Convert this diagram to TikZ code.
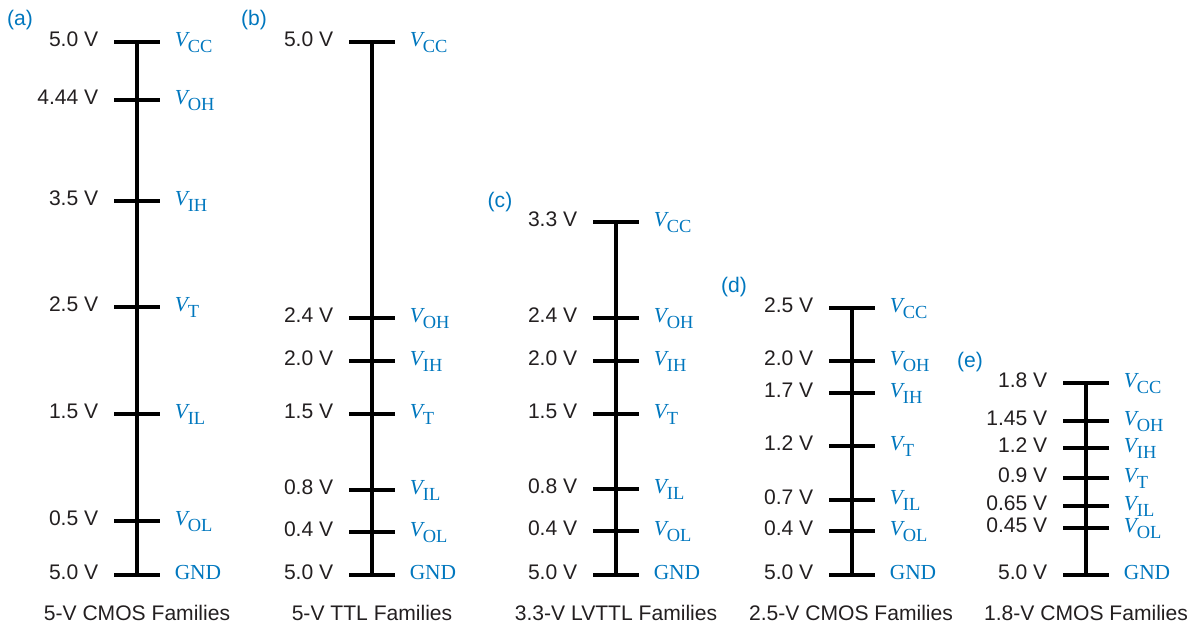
\documentclass[tikz,border=0pt]{standalone}
\usepackage{fontspec}
\setmainfont{Liberation Sans}
\newfontfamily\labelfont{Liberation Serif}
\definecolor{labelblue}{RGB}{0,119,190}
\definecolor{valgray}{RGB}{35,31,32}
\newcommand{\vsig}[1]{{\itshape V}\raisebox{-3.6pt}{\fontsize{10.5}{12}\selectfont #1}}

\begin{document}
\begin{tikzpicture}[x=0.02cm, y=-0.02cm, line width=2pt,
    value/.style={anchor=mid east, inner sep=0, text=valgray,
                  font=\fontsize{12}{14}\selectfont},
    sig/.style={anchor=mid west, inner sep=0, text=labelblue,
                font=\labelfont\fontsize{12.2}{14}\selectfont},
    panel/.style={text=labelblue, inner sep=0, font=\fontsize{12}{14}\selectfont},
    caption/.style={text=valgray, inner sep=0, font=\fontsize{12}{14}\selectfont}]
  \useasboundingbox (0,0) rectangle (1202,626);

  % (a) 5-V CMOS
  \node[panel] (a-lab) at (20,20) {(a)};
  \coordinate (a0) at (137,42);
  \coordinate (a6) at (137,575);
  \draw (a0) -- (a6);
  \foreach \n/\y/\v/\s in {0/42/5.0/\vsig{CC}, 1/100/4.44/\vsig{OH}, 2/201/3.5/\vsig{IH},
                           3/307/2.5/\vsig{T}, 4/414/1.5/\vsig{IL}, 5/521/0.5/\vsig{OL}, 6/575/5.0/GND} {
    \draw (137-23,\y) -- (137+23,\y);
    \node[value] (a-v\n) at (137-37,\y) {\v\ V};
    \node[sig] (a-s\n) at (137+36,\y) {\s};
  }
  \node[caption] (a-cap) at (137,613) {5-V CMOS Families};

  % (b) 5-V TTL
  \node[panel] (b-lab) at (254,20) {(b)};
  \coordinate (b0) at (372,42);
  \coordinate (b6) at (372,575);
  \draw (b0) -- (b6);
  \foreach \n/\y/\v/\s in {0/42/5.0/\vsig{CC}, 1/318/2.4/\vsig{OH}, 2/361/2.0/\vsig{IH},
                           3/414/1.5/\vsig{T}, 4/490/0.8/\vsig{IL}, 5/532/0.4/\vsig{OL}, 6/575/5.0/GND} {
    \draw (372-23,\y) -- (372+23,\y);
    \node[value] (b-v\n) at (372-37,\y) {\v\ V};
    \node[sig] (b-s\n) at (372+36,\y) {\s};
  }
  \node[caption] (b-cap) at (372,613) {5-V TTL Families};

  % (c) 3.3-V LVTTL
  \node[panel] (c-lab) at (500,202) {(c)};
  \coordinate (c0) at (616,222);
  \coordinate (c6) at (616,575);
  \draw (c0) -- (c6);
  \foreach \n/\y/\v/\s in {0/222/3.3/\vsig{CC}, 1/318/2.4/\vsig{OH}, 2/361/2.0/\vsig{IH},
                           3/414/1.5/\vsig{T}, 4/489/0.8/\vsig{IL}, 5/531/0.4/\vsig{OL}, 6/575/5.0/GND} {
    \draw (616-23,\y) -- (616+23,\y);
    \node[value] (c-v\n) at (616-37,\y) {\v\ V};
    \node[sig] (c-s\n) at (616+36,\y) {\s};
  }
  \node[caption] (c-cap) at (616,613) {3.3-V LVTTL Families};

  % (d) 2.5-V CMOS
  \node[panel] (d-lab) at (734,287) {(d)};
  \coordinate (d0) at (852,308);
  \coordinate (d6) at (852,575);
  \draw (d0) -- (d6);
  \foreach \n/\y/\v/\s in {0/308/2.5/\vsig{CC}, 1/361/2.0/\vsig{OH}, 2/393/1.7/\vsig{IH},
                           3/446/1.2/\vsig{T}, 4/500/0.7/\vsig{IL}, 5/531/0.4/\vsig{OL}, 6/575/5.0/GND} {
    \draw (852-23,\y) -- (852+23,\y);
    \node[value] (d-v\n) at (852-37,\y) {\v\ V};
    \node[sig] (d-s\n) at (852+36,\y) {\s};
  }
  \node[caption] (d-cap) at (851,613) {2.5-V CMOS Families};

  % (e) 1.8-V CMOS
  \node[panel] (e-lab) at (970,362) {(e)};
  \coordinate (e0) at (1086,383);
  \coordinate (e6) at (1086,575);
  \draw (e0) -- (e6);
  \foreach \n/\y/\v/\s in {0/383/1.8/\vsig{CC}, 1/421/1.45/\vsig{OH}, 2/448/1.2/\vsig{IH},
                           3/478/0.9/\vsig{T}, 4/506/0.65/\vsig{IL}, 5/528/0.45/\vsig{OL}, 6/575/5.0/GND} {
    \draw (1086-23,\y) -- (1086+23,\y);
    \node[value] (e-v\n) at (1086-37,\y) {\v\ V};
    \node[sig] (e-s\n) at (1086+36,\y) {\s};
  }
  \node[caption] (e-cap) at (1086,613) {1.8-V CMOS Families};
\end{tikzpicture}
\end{document}
